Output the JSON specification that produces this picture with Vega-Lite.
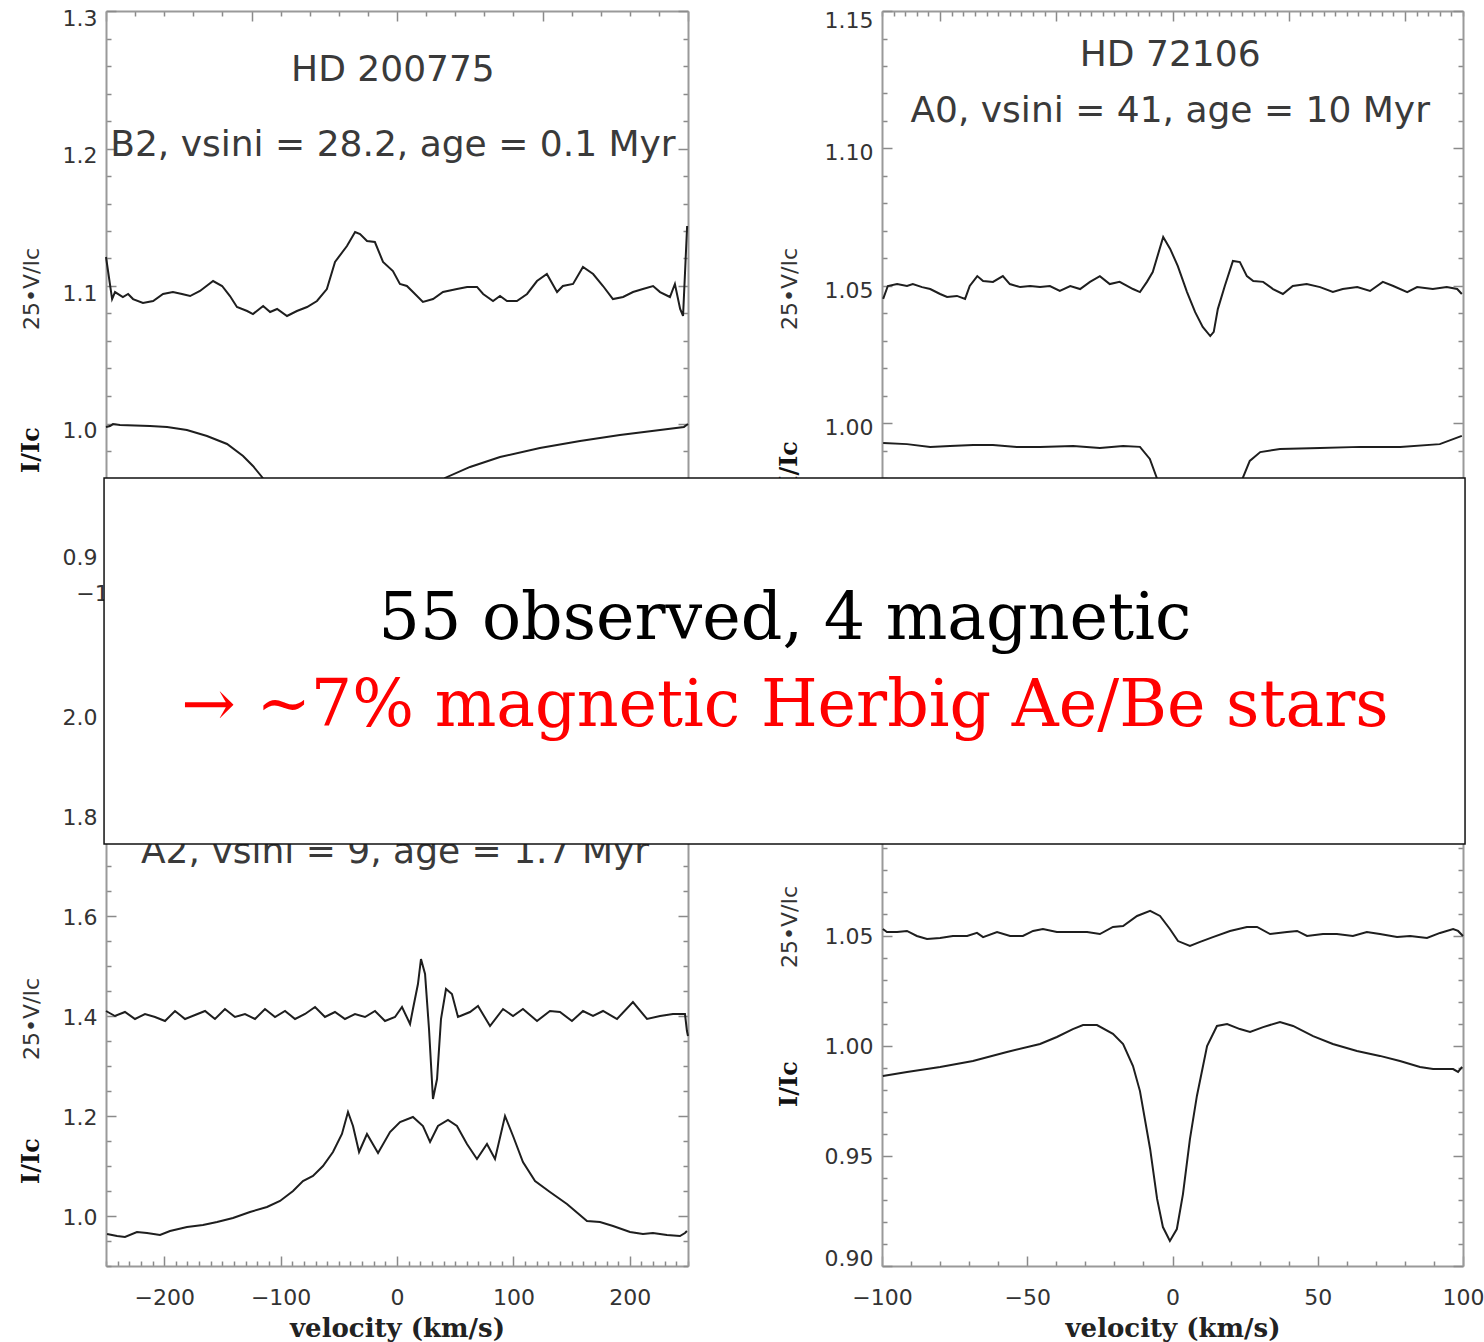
{
"$schema":"https://vega.github.io/schema/vega-lite/v6.json",
"background":"white",
"padding":{"left":19,"top":7,"right":5,"bottom":5},
"config":{"view":{"stroke":null},"axis":{"domainColor":"#9a9a9a","domainWidth":2,"tickColor":"#8a8a8a","tickWidth":1.5,"labelFont":"DejaVu Sans","labelFontSize":22,"labelColor":"#333","grid":false,"titleFont":"DejaVu Serif","titleFontWeight":"bold","titleFontSize":26,"titleColor":"#222","labelOverlap":false,"labelFlush":false}},
"datasets":{
"tlV":[{"v":-100,"f":1.1211},{"v":-97.9,"f":1.0905},{"v":-96.9,"f":1.0956},{"v":-94.2,"f":1.092},{"v":-92.4,"f":1.0942},{"v":-90.7,"f":1.0905},{"v":-87.3,"f":1.0876},{"v":-83.8,"f":1.0891},{"v":-80.4,"f":1.0942},{"v":-77.0,"f":1.0956},{"v":-73.9,"f":1.0942},{"v":-71.1,"f":1.0927},{"v":-67.7,"f":1.0964},{"v":-63.2,"f":1.1036},{"v":-60.1,"f":1.1},{"v":-57.4,"f":1.0927},{"v":-55.0,"f":1.0847},{"v":-51.5,"f":1.0818},{"v":-49.5,"f":1.0796},{"v":-46.0,"f":1.0855},{"v":-43.6,"f":1.0811},{"v":-41.2,"f":1.0833},{"v":-37.8,"f":1.0782},{"v":-34.4,"f":1.0818},{"v":-30.9,"f":1.0847},{"v":-27.5,"f":1.0891},{"v":-24.1,"f":1.0978},{"v":-21.3,"f":1.1175},{"v":-17.2,"f":1.1291},{"v":-14.4,"f":1.1393},{"v":-12.7,"f":1.1378},{"v":-10.3,"f":1.1327},{"v":-7.6,"f":1.132},{"v":-4.8,"f":1.1175},{"v":-1.4,"f":1.1109},{"v":1.0,"f":1.1015},{"v":3.4,"f":1.1},{"v":5.5,"f":1.0956},{"v":8.9,"f":1.0884},{"v":12.4,"f":1.0905},{"v":15.8,"f":1.0956},{"v":20.6,"f":1.0978},{"v":24.1,"f":1.0993},{"v":27.5,"f":1.0993},{"v":29.6,"f":1.0942},{"v":33.0,"f":1.0891},{"v":35.4,"f":1.0927},{"v":37.8,"f":1.0891},{"v":41.2,"f":1.0891},{"v":44.7,"f":1.0942},{"v":48.1,"f":1.1036},{"v":51.5,"f":1.1087},{"v":55.0,"f":1.0956},{"v":57.0,"f":1.1},{"v":60.5,"f":1.1015},{"v":63.9,"f":1.1138},{"v":67.4,"f":1.1087},{"v":70.8,"f":1.1},{"v":74.2,"f":1.0905},{"v":77.7,"f":1.092},{"v":81.1,"f":1.0956},{"v":84.5,"f":1.0978},{"v":88.0,"f":1.1},{"v":90.4,"f":1.0956},{"v":93.8,"f":1.092},{"v":95.5,"f":1.1015},{"v":97.3,"f":1.0833},{"v":98.3,"f":1.0782},{"v":99.7,"f":1.1436}],
"tlI":[{"v":-100,"f":0.9975},{"v":-98.6,"f":0.9982},{"v":-97.6,"f":0.9996},{"v":-95.2,"f":0.9989},{"v":-84.9,"f":0.9982},{"v":-79.0,"f":0.9975},{"v":-72.2,"f":0.9953},{"v":-65.3,"f":0.9909},{"v":-58.4,"f":0.9851},{"v":-52.9,"f":0.9764},{"v":-49.5,"f":0.9691},{"v":-46.4,"f":0.9611},{"v":-38.5,"f":0.9378},{"v":-26.5,"f":0.916},{"v":-12.7,"f":0.9087},{"v":1.0,"f":0.9196},{"v":11.3,"f":0.9451},{"v":16.5,"f":0.9604},{"v":25.1,"f":0.9684},{"v":35.4,"f":0.9756},{"v":49.1,"f":0.9822},{"v":62.9,"f":0.9873},{"v":76.6,"f":0.9916},{"v":90.4,"f":0.9953},{"v":98.6,"f":0.9975},{"v":100,"f":0.9996}],
"trV":[{"v":-49.8,"f":1.0453},{"v":-49.0,"f":1.05},{"v":-47.4,"f":1.0507},{"v":-45.7,"f":1.05},{"v":-44.7,"f":1.0507},{"v":-43.1,"f":1.0496},{"v":-41.7,"f":1.0489},{"v":-40.0,"f":1.0471},{"v":-38.8,"f":1.046},{"v":-37.1,"f":1.0464},{"v":-35.7,"f":1.0453},{"v":-34.9,"f":1.05},{"v":-33.6,"f":1.0536},{"v":-32.6,"f":1.0518},{"v":-30.9,"f":1.0515},{"v":-29.2,"f":1.0536},{"v":-28.0,"f":1.0507},{"v":-26.2,"f":1.0496},{"v":-24.5,"f":1.05},{"v":-22.8,"f":1.0496},{"v":-21.1,"f":1.05},{"v":-19.4,"f":1.0482},{"v":-17.6,"f":1.05},{"v":-15.9,"f":1.0489},{"v":-14.2,"f":1.0515},{"v":-12.5,"f":1.0536},{"v":-10.8,"f":1.0507},{"v":-9.1,"f":1.0515},{"v":-6.8,"f":1.0489},{"v":-5.6,"f":1.0478},{"v":-4.4,"f":1.0515},{"v":-3.4,"f":1.0551},{"v":-1.6,"f":1.0678},{"v":-0.4,"f":1.0635},{"v":0.9,"f":1.0573},{"v":2.5,"f":1.0478},{"v":3.9,"f":1.0405},{"v":5.2,"f":1.0351},{"v":6.5,"f":1.0318},{"v":7.1,"f":1.0333},{"v":7.8,"f":1.0416},{"v":9.0,"f":1.05},{"v":10.4,"f":1.0591},{"v":11.6,"f":1.0587},{"v":12.8,"f":1.0536},{"v":13.9,"f":1.0518},{"v":15.6,"f":1.0515},{"v":17.3,"f":1.0489},{"v":19.0,"f":1.0471},{"v":20.7,"f":1.05},{"v":23.1,"f":1.0507},{"v":25.4,"f":1.0496},{"v":27.6,"f":1.0478},{"v":29.3,"f":1.0489},{"v":31.8,"f":1.0496},{"v":34.0,"f":1.0482},{"v":36.2,"f":1.0515},{"v":38.0,"f":1.05},{"v":40.4,"f":1.0478},{"v":42.1,"f":1.0496},{"v":44.8,"f":1.0489},{"v":47.2,"f":1.0496},{"v":49.0,"f":1.0489},{"v":49.8,"f":1.0471}],
"trI":[{"v":-49.8,"f":0.9929},{"v":-45.7,"f":0.9925},{"v":-41.7,"f":0.9915},{"v":-38.3,"f":0.9918},{"v":-34.3,"f":0.9922},{"v":-30.9,"f":0.9922},{"v":-26.8,"f":0.9915},{"v":-22.8,"f":0.9915},{"v":-17.1,"f":0.9918},{"v":-12.5,"f":0.9911},{"v":-8.5,"f":0.9918},{"v":-5.6,"f":0.9915},{"v":-3.9,"f":0.9871},{"v":-2.7,"f":0.9802},{"v":-1.3,"f":0.9653},{"v":2.2,"f":0.9555},{"v":4.7,"f":0.955},{"v":9.0,"f":0.9616},{"v":12.1,"f":0.9802},{"v":13.3,"f":0.9864},{"v":15.1,"f":0.9896},{"v":18.5,"f":0.9907},{"v":25.4,"f":0.9911},{"v":32.3,"f":0.9915},{"v":39.2,"f":0.9915},{"v":46.0,"f":0.9925},{"v":49.8,"f":0.9955}],
"blV":[{"v":-250,"f":1.41},{"v":-242.3,"f":1.4},{"v":-233.7,"f":1.408},{"v":-225.1,"f":1.394},{"v":-216.5,"f":1.404},{"v":-207.9,"f":1.398},{"v":-199.3,"f":1.39},{"v":-190.7,"f":1.41},{"v":-182.1,"f":1.394},{"v":-173.5,"f":1.402},{"v":-164.9,"f":1.41},{"v":-156.4,"f":1.394},{"v":-147.8,"f":1.414},{"v":-139.2,"f":1.398},{"v":-130.6,"f":1.404},{"v":-122.0,"f":1.394},{"v":-113.4,"f":1.414},{"v":-104.8,"f":1.398},{"v":-96.2,"f":1.41},{"v":-87.6,"f":1.394},{"v":-79.0,"f":1.404},{"v":-70.4,"f":1.418},{"v":-61.9,"f":1.398},{"v":-53.3,"f":1.408},{"v":-44.7,"f":1.394},{"v":-36.1,"f":1.404},{"v":-27.5,"f":1.398},{"v":-18.9,"f":1.41},{"v":-10.3,"f":1.39},{"v":-1.7,"f":1.398},{"v":4.3,"f":1.418},{"v":11.2,"f":1.384},{"v":13.7,"f":1.414},{"v":18.0,"f":1.464},{"v":20.6,"f":1.514},{"v":24.1,"f":1.484},{"v":27.5,"f":1.374},{"v":30.9,"f":1.234},{"v":34.4,"f":1.274},{"v":37.8,"f":1.394},{"v":42.1,"f":1.454},{"v":47.2,"f":1.444},{"v":52.4,"f":1.398},{"v":62.7,"f":1.408},{"v":69.6,"f":1.42},{"v":79.9,"f":1.38},{"v":91.1,"f":1.414},{"v":99.7,"f":1.4},{"v":108.2,"f":1.414},{"v":120.3,"f":1.39},{"v":131.4,"f":1.41},{"v":140.0,"f":1.408},{"v":150.3,"f":1.39},{"v":159.8,"f":1.41},{"v":168.4,"f":1.4},{"v":177.0,"f":1.41},{"v":189.0,"f":1.394},{"v":202.7,"f":1.428},{"v":214.8,"f":1.394},{"v":226.0,"f":1.4},{"v":237.1,"f":1.404},{"v":247.4,"f":1.404},{"v":249.1,"f":1.37},{"v":250,"f":1.36}],
"blI":[{"v":-249.1,"f":0.964},{"v":-240.5,"f":0.96},{"v":-233.7,"f":0.958},{"v":-223.4,"f":0.968},{"v":-214.8,"f":0.966},{"v":-203.6,"f":0.962},{"v":-195.0,"f":0.97},{"v":-180.4,"f":0.978},{"v":-166.7,"f":0.982},{"v":-154.6,"f":0.988},{"v":-140.9,"f":0.996},{"v":-126.3,"f":1.008},{"v":-111.7,"f":1.018},{"v":-100.5,"f":1.03},{"v":-89.3,"f":1.05},{"v":-80.8,"f":1.07},{"v":-72.2,"f":1.08},{"v":-63.6,"f":1.1},{"v":-55.0,"f":1.128},{"v":-47.3,"f":1.164},{"v":-42.1,"f":1.208},{"v":-37.8,"f":1.18},{"v":-32.6,"f":1.128},{"v":-25.8,"f":1.164},{"v":-16.3,"f":1.126},{"v":-6.0,"f":1.168},{"v":2.6,"f":1.188},{"v":13.7,"f":1.198},{"v":22.3,"f":1.18},{"v":28.4,"f":1.148},{"v":35.2,"f":1.18},{"v":43.8,"f":1.192},{"v":51.5,"f":1.18},{"v":60.1,"f":1.144},{"v":68.7,"f":1.114},{"v":77.3,"f":1.144},{"v":84.2,"f":1.114},{"v":92.8,"f":1.2},{"v":99.7,"f":1.16},{"v":108.2,"f":1.108},{"v":118.6,"f":1.07},{"v":131.4,"f":1.048},{"v":146.0,"f":1.024},{"v":163.2,"f":0.99},{"v":174.4,"f":0.988},{"v":185.6,"f":0.98},{"v":200.2,"f":0.968},{"v":211.3,"f":0.964},{"v":219.9,"f":0.966},{"v":231.9,"f":0.962},{"v":243.1,"f":0.96},{"v":247.4,"f":0.966},{"v":249.1,"f":0.97}],
"brV":[{"v":-99.7,"f":1.0532},{"v":-98.3,"f":1.0518},{"v":-94.8,"f":1.0518},{"v":-91.4,"f":1.0523},{"v":-88.0,"f":1.05},{"v":-84.5,"f":1.0486},{"v":-80.0,"f":1.0491},{"v":-75.6,"f":1.05},{"v":-70.7,"f":1.05},{"v":-67.3,"f":1.0514},{"v":-65.2,"f":1.0495},{"v":-60.4,"f":1.0518},{"v":-55.9,"f":1.05},{"v":-51.5,"f":1.05},{"v":-48.0,"f":1.0523},{"v":-44.6,"f":1.0532},{"v":-39.8,"f":1.0518},{"v":-35.3,"f":1.0518},{"v":-29.4,"f":1.0518},{"v":-25.0,"f":1.0509},{"v":-20.5,"f":1.0541},{"v":-17.0,"f":1.0545},{"v":-12.2,"f":1.0591},{"v":-7.7,"f":1.0614},{"v":-4.3,"f":1.0591},{"v":-0.9,"f":1.0532},{"v":1.9,"f":1.0477},{"v":6.0,"f":1.0455},{"v":9.5,"f":1.0473},{"v":13.9,"f":1.0495},{"v":19.8,"f":1.0523},{"v":25.6,"f":1.0541},{"v":29.1,"f":1.0541},{"v":33.6,"f":1.0509},{"v":39.4,"f":1.0518},{"v":42.9,"f":1.0523},{"v":46.3,"f":1.05},{"v":51.8,"f":1.0509},{"v":56.6,"f":1.0509},{"v":62.1,"f":1.05},{"v":66.9,"f":1.0518},{"v":71.4,"f":1.0509},{"v":77.3,"f":1.0495},{"v":81.8,"f":1.05},{"v":87.6,"f":1.0491},{"v":92.1,"f":1.0514},{"v":96.6,"f":1.0532},{"v":98.3,"f":1.0523},{"v":100,"f":1.05}],
"brI":[{"v":-99.7,"f":0.9864},{"v":-91.4,"f":0.9882},{"v":-80.0,"f":0.9905},{"v":-68.7,"f":0.9932},{"v":-57.0,"f":0.9973},{"v":-45.6,"f":1.0009},{"v":-39.8,"f":1.0041},{"v":-34.3,"f":1.0077},{"v":-30.8,"f":1.0095},{"v":-26.0,"f":1.0095},{"v":-20.5,"f":1.0055},{"v":-17.0,"f":1.0009},{"v":-13.6,"f":0.9909},{"v":-11.2,"f":0.9795},{"v":-7.7,"f":0.9532},{"v":-5.3,"f":0.9305},{"v":-3.3,"f":0.9177},{"v":-0.9,"f":0.9114},{"v":1.5,"f":0.9168},{"v":3.6,"f":0.9327},{"v":6.0,"f":0.9577},{"v":8.4,"f":0.9773},{"v":11.9,"f":1.0},{"v":15.3,"f":1.0091},{"v":18.8,"f":1.01},{"v":23.2,"f":1.0077},{"v":26.7,"f":1.0064},{"v":31.2,"f":1.0086},{"v":37.0,"f":1.0109},{"v":41.5,"f":1.0091},{"v":48.4,"f":1.0045},{"v":55.2,"f":1.0009},{"v":63.5,"f":0.9977},{"v":71.4,"f":0.9955},{"v":78.3,"f":0.9932},{"v":85.2,"f":0.9905},{"v":89.7,"f":0.9895},{"v":96.6,"f":0.9895},{"v":98.3,"f":0.9882},{"v":99.7,"f":0.9905}]
},
"columns":2,
"bounds":"flush",
"spacing":{"row":155,"column":194},
"concat":[
{
"width":582,"height":550,
"layer":[
{"data":{"name":"tlV"},"mark":{"type":"line","color":"#1e1e1e","strokeWidth":2},
 "encoding":{
  "x":{"field":"v","type":"quantitative","scale":{"domain":[-100,100],"nice":false,"zero":false},
   "axis":{"orient":"bottom","values":[-100,-90,-80,-70,-60,-50,-40,-30,-20,-10,0,10,20,30,40,50,60,70,80,90,100],"tickSize":{"condition":{"test":"datum.value % 50 == 0","value":-10},"value":-5},"labelExpr":"datum.value == -100 ? format(datum.value, 'd') : ''","labelPadding":32,"labelFlush":false,"title":null,"zindex":0}},
  "y":{"field":"f","type":"quantitative","scale":{"domain":[0.9,1.3],"nice":false,"zero":false},
   "axis":{"orient":"left","values":[0.9,0.92,0.94,0.96,0.98,1.0,1.02,1.04,1.06,1.08,1.1,1.12,1.14,1.16,1.18,1.2,1.22,1.24,1.26,1.28,1.3],"tickSize":{"condition":{"test":"abs(datum.value*10-round(datum.value*10))<1e-6","value":-10},"value":-5},"labelExpr":"abs(datum.value*10-round(datum.value*10))<1e-6 ? format(datum.value, '.1f') : ''","labelPadding":19,"labelOffset":{"condition":{"test":"datum.value < 0.905","value":-4},"value":7},"title":null,"zindex":0}}}},
{"data":{"name":"tlI"},"mark":{"type":"line","color":"#1e1e1e","strokeWidth":2},
 "encoding":{
  "x":{"field":"v","type":"quantitative","scale":{"domain":[-100,100],"nice":false,"zero":false},
   "axis":{"orient":"top","values":[-100,-90,-80,-70,-60,-50,-40,-30,-20,-10,0,10,20,30,40,50,60,70,80,90,100],"tickSize":{"condition":{"test":"datum.value % 50 == 0","value":-10},"value":-5},"labels":false,"title":null,"zindex":0}},
  "y":{"field":"f","type":"quantitative","scale":{"domain":[0.9,1.3],"nice":false,"zero":false},
   "axis":{"orient":"right","values":[0.9,0.92,0.94,0.96,0.98,1.0,1.02,1.04,1.06,1.08,1.1,1.12,1.14,1.16,1.18,1.2,1.22,1.24,1.26,1.28,1.3],"tickSize":{"condition":{"test":"abs(datum.value*10-round(datum.value*10))<1e-6","value":-10},"value":-5},"labels":false,"title":null,"zindex":0}}}},
{"data":{"values":[{"v":-1.4,"f":1.249,"t":"HD 200775"},{"v":-1.4,"f":1.1945,"t":"B2, vsini = 28.2, age = 0.1 Myr"}]},
 "mark":{"type":"text","font":"DejaVu Sans","fontSize":36,"color":"#3a3a3a","align":"center","baseline":"alphabetic"},
 "encoding":{"x":{"field":"v","type":"quantitative","scale":{"domain":[-100,100],"nice":false,"zero":false},"axis":null},"y":{"field":"f","type":"quantitative","scale":{"domain":[0.9,1.3],"nice":false,"zero":false},"axis":null},"text":{"field":"t"}}},
{"data":{"values":[{"v":-125.4,"f":1.0978,"t":"25•V/Ic"}]},
 "mark":{"type":"text","font":"DejaVu Sans","fontSize":22,"color":"#333","align":"center","baseline":"middle","angle":270},
 "encoding":{"x":{"field":"v","type":"quantitative","scale":{"domain":[-100,100],"nice":false,"zero":false},"axis":null},"y":{"field":"f","type":"quantitative","scale":{"domain":[0.9,1.3],"nice":false,"zero":false},"axis":null},"text":{"field":"t"}}},
{"data":{"values":[{"v":-125.4,"f":0.9807,"t":"I/Ic"}]},
 "mark":{"type":"text","font":"DejaVu Serif","fontWeight":"bold","fontSize":24,"color":"#111","align":"center","baseline":"middle","angle":270},
 "encoding":{"x":{"field":"v","type":"quantitative","scale":{"domain":[-100,100],"nice":false,"zero":false},"axis":null},"y":{"field":"f","type":"quantitative","scale":{"domain":[0.9,1.3],"nice":false,"zero":false},"axis":null},"text":{"field":"t"}}}
],
"resolve":{"axis":{"x":"independent","y":"independent"}}
},
{
"width":581,"height":550,
"layer":[
{"data":{"name":"trV"},"mark":{"type":"line","color":"#1e1e1e","strokeWidth":2},
 "encoding":{
  "x":{"field":"v","type":"quantitative","scale":{"domain":[-50,50],"nice":false,"zero":false},
   "axis":{"orient":"bottom","values":[-50,-48,-46,-44,-42,-40,-38,-36,-34,-32,-30,-28,-26,-24,-22,-20,-18,-16,-14,-12,-10,-8,-6,-4,-2,0,2,4,6,8,10,12,14,16,18,20,22,24,26,28,30,32,34,36,38,40,42,44,46,48,50],"tickSize":{"condition":{"test":"datum.value % 20 == 0","value":-10},"value":-5},"labels":false,"title":null,"zindex":0}},
  "y":{"field":"f","type":"quantitative","scale":{"domain":[0.95,1.15],"nice":false,"zero":false},
   "axis":{"orient":"left","values":[0.95,0.96,0.97,0.98,0.99,1.0,1.01,1.02,1.03,1.04,1.05,1.06,1.07,1.08,1.09,1.1,1.11,1.12,1.13,1.14,1.15],"tickSize":{"condition":{"test":"abs(datum.value*20-round(datum.value*20))<1e-6","value":-10},"value":-5},"labelExpr":"abs(datum.value*20-round(datum.value*20))<1e-6 ? format(datum.value, '.2f') : ''","labelPadding":19,"labelOffset":{"condition":{"test":"datum.value > 1.145","value":9},"value":4},"title":null,"zindex":0}}}},
{"data":{"name":"trI"},"mark":{"type":"line","color":"#1e1e1e","strokeWidth":2},
 "encoding":{
  "x":{"field":"v","type":"quantitative","scale":{"domain":[-50,50],"nice":false,"zero":false},
   "axis":{"orient":"top","values":[-50,-48,-46,-44,-42,-40,-38,-36,-34,-32,-30,-28,-26,-24,-22,-20,-18,-16,-14,-12,-10,-8,-6,-4,-2,0,2,4,6,8,10,12,14,16,18,20,22,24,26,28,30,32,34,36,38,40,42,44,46,48,50],"tickSize":{"condition":{"test":"datum.value % 20 == 0","value":-10},"value":-5},"labels":false,"title":null,"zindex":0}},
  "y":{"field":"f","type":"quantitative","scale":{"domain":[0.95,1.15],"nice":false,"zero":false},
   "axis":{"orient":"right","values":[0.95,0.96,0.97,0.98,0.99,1.0,1.01,1.02,1.03,1.04,1.05,1.06,1.07,1.08,1.09,1.1,1.11,1.12,1.13,1.14,1.15],"tickSize":{"condition":{"test":"abs(datum.value*20-round(datum.value*20))<1e-6","value":-10},"value":-5},"labels":false,"title":null,"zindex":0}}}},
{"data":{"values":[{"v":-0.4,"f":1.13,"t":"HD 72106"},{"v":-0.4,"f":1.1096,"t":"A0, vsini = 41, age = 10 Myr"}]},
 "mark":{"type":"text","font":"DejaVu Sans","fontSize":36,"color":"#3a3a3a","align":"center","baseline":"alphabetic"},
 "encoding":{"x":{"field":"v","type":"quantitative","scale":{"domain":[-50,50],"nice":false,"zero":false},"axis":null},"y":{"field":"f","type":"quantitative","scale":{"domain":[0.95,1.15],"nice":false,"zero":false},"axis":null},"text":{"field":"t"}}},
{"data":{"values":[{"v":-65.8,"f":1.0489,"t":"25•V/Ic"}]},
 "mark":{"type":"text","font":"DejaVu Sans","fontSize":22,"color":"#333","align":"center","baseline":"middle","angle":270},
 "encoding":{"x":{"field":"v","type":"quantitative","scale":{"domain":[-50,50],"nice":false,"zero":false},"axis":null},"y":{"field":"f","type":"quantitative","scale":{"domain":[0.95,1.15],"nice":false,"zero":false},"axis":null},"text":{"field":"t"}}},
{"data":{"values":[{"v":-65.8,"f":0.9853,"t":"I/Ic"}]},
 "mark":{"type":"text","font":"DejaVu Serif","fontWeight":"bold","fontSize":24,"color":"#111","align":"center","baseline":"middle","angle":270},
 "encoding":{"x":{"field":"v","type":"quantitative","scale":{"domain":[-50,50],"nice":false,"zero":false},"axis":null},"y":{"field":"f","type":"quantitative","scale":{"domain":[0.95,1.15],"nice":false,"zero":false},"axis":null},"text":{"field":"t"}}}
],
"resolve":{"axis":{"x":"independent","y":"independent"}}
},
{
"width":582,"height":550,
"layer":[
{"data":{"name":"blV"},"mark":{"type":"line","color":"#1e1e1e","strokeWidth":2},
 "encoding":{
  "x":{"field":"v","type":"quantitative","scale":{"domain":[-250,250],"nice":false,"zero":false},
   "axis":{"orient":"bottom","values":[-250,-240,-230,-220,-210,-200,-190,-180,-170,-160,-150,-140,-130,-120,-110,-100,-90,-80,-70,-60,-50,-40,-30,-20,-10,0,10,20,30,40,50,60,70,80,90,100,110,120,130,140,150,160,170,180,190,200,210,220,230,240,250],"tickSize":{"condition":{"test":"datum.value % 100 == 0","value":-10},"value":-5},"labelExpr":"datum.value % 100 == 0 ? format(datum.value, 'd') : ''","labelPadding":31,"labelFlush":false,"title":"velocity (km/s)","titlePadding":2,"zindex":0}},
  "y":{"field":"f","type":"quantitative","scale":{"domain":[0.9,2.0],"nice":false,"zero":false},
   "axis":{"orient":"left","values":[0.9,0.95,1.0,1.05,1.1,1.15,1.2,1.25,1.3,1.35,1.4,1.45,1.5,1.55,1.6,1.65,1.7,1.75,1.8,1.85,1.9,1.95,2.0],"tickSize":{"condition":{"test":"abs(datum.value*5-round(datum.value*5))<1e-6","value":-10},"value":-5},"labelExpr":"abs(datum.value*5-round(datum.value*5))<1e-6 ? format(datum.value, '.1f') : ''","labelPadding":19,"labelOffset":1,"title":null,"zindex":0}}}},
{"data":{"name":"blI"},"mark":{"type":"line","color":"#1e1e1e","strokeWidth":2},
 "encoding":{
  "x":{"field":"v","type":"quantitative","scale":{"domain":[-250,250],"nice":false,"zero":false},
   "axis":{"orient":"top","values":[-250,-240,-230,-220,-210,-200,-190,-180,-170,-160,-150,-140,-130,-120,-110,-100,-90,-80,-70,-60,-50,-40,-30,-20,-10,0,10,20,30,40,50,60,70,80,90,100,110,120,130,140,150,160,170,180,190,200,210,220,230,240,250],"tickSize":{"condition":{"test":"datum.value % 100 == 0","value":-10},"value":-5},"labels":false,"title":null,"zindex":0}},
  "y":{"field":"f","type":"quantitative","scale":{"domain":[0.9,2.0],"nice":false,"zero":false},
   "axis":{"orient":"right","values":[0.9,0.95,1.0,1.05,1.1,1.15,1.2,1.25,1.3,1.35,1.4,1.45,1.5,1.55,1.6,1.65,1.7,1.75,1.8,1.85,1.9,1.95,2.0],"tickSize":{"condition":{"test":"abs(datum.value*5-round(datum.value*5))<1e-6","value":-10},"value":-5},"labels":false,"title":null,"zindex":0}}}},
{"data":{"values":[{"v":-1.7,"f":1.706,"t":"A2, vsini = 9, age = 1.7 Myr"}]},
 "mark":{"type":"text","font":"DejaVu Sans","fontSize":36,"color":"#3a3a3a","align":"center","baseline":"alphabetic"},
 "encoding":{"x":{"field":"v","type":"quantitative","scale":{"domain":[-250,250],"nice":false,"zero":false},"axis":null},"y":{"field":"f","type":"quantitative","scale":{"domain":[0.9,2.0],"nice":false,"zero":false},"axis":null},"text":{"field":"t"}}},
{"data":{"values":[{"v":-313.6,"f":1.394,"t":"25•V/Ic"}]},
 "mark":{"type":"text","font":"DejaVu Sans","fontSize":22,"color":"#333","align":"center","baseline":"middle","angle":270},
 "encoding":{"x":{"field":"v","type":"quantitative","scale":{"domain":[-250,250],"nice":false,"zero":false},"axis":null},"y":{"field":"f","type":"quantitative","scale":{"domain":[0.9,2.0],"nice":false,"zero":false},"axis":null},"text":{"field":"t"}}},
{"data":{"values":[{"v":-313.6,"f":1.11,"t":"I/Ic"}]},
 "mark":{"type":"text","font":"DejaVu Serif","fontWeight":"bold","fontSize":24,"color":"#111","align":"center","baseline":"middle","angle":270},
 "encoding":{"x":{"field":"v","type":"quantitative","scale":{"domain":[-250,250],"nice":false,"zero":false},"axis":null},"y":{"field":"f","type":"quantitative","scale":{"domain":[0.9,2.0],"nice":false,"zero":false},"axis":null},"text":{"field":"t"}}}
],
"resolve":{"axis":{"x":"independent","y":"independent"}}
},
{
"width":581,"height":550,
"layer":[
{"data":{"name":"brV"},"mark":{"type":"line","color":"#1e1e1e","strokeWidth":2},
 "encoding":{
  "x":{"field":"v","type":"quantitative","scale":{"domain":[-100,100],"nice":false,"zero":false},
   "axis":{"orient":"bottom","values":[-100,-90,-80,-70,-60,-50,-40,-30,-20,-10,0,10,20,30,40,50,60,70,80,90,100],"tickSize":{"condition":{"test":"datum.value % 50 == 0","value":-10},"value":-5},"labelExpr":"datum.value % 50 == 0 ? format(datum.value, 'd') : ''","labelPadding":31,"labelFlush":false,"title":"velocity (km/s)","titlePadding":2,"zindex":0}},
  "y":{"field":"f","type":"quantitative","scale":{"domain":[0.9,1.15],"nice":false,"zero":false},
   "axis":{"orient":"left","values":[0.9,0.91,0.92,0.93,0.94,0.95,0.96,0.97,0.98,0.99,1.0,1.01,1.02,1.03,1.04,1.05,1.06,1.07,1.08,1.09,1.1,1.11,1.12,1.13,1.14,1.15],"tickSize":{"condition":{"test":"abs(datum.value*20-round(datum.value*20))<1e-6","value":-10},"value":-5},"labelExpr":"abs(datum.value*20-round(datum.value*20))<1e-6 && datum.value < 1.06 ? format(datum.value, '.2f') : ''","labelPadding":19,"labelOffset":{"condition":{"test":"datum.value < 0.905","value":-8},"value":0},"title":null,"zindex":0}}}},
{"data":{"name":"brI"},"mark":{"type":"line","color":"#1e1e1e","strokeWidth":2},
 "encoding":{
  "x":{"field":"v","type":"quantitative","scale":{"domain":[-100,100],"nice":false,"zero":false},
   "axis":{"orient":"top","values":[-100,-90,-80,-70,-60,-50,-40,-30,-20,-10,0,10,20,30,40,50,60,70,80,90,100],"tickSize":{"condition":{"test":"datum.value % 50 == 0","value":-10},"value":-5},"labels":false,"title":null,"zindex":0}},
  "y":{"field":"f","type":"quantitative","scale":{"domain":[0.9,1.15],"nice":false,"zero":false},
   "axis":{"orient":"right","values":[0.9,0.91,0.92,0.93,0.94,0.95,0.96,0.97,0.98,0.99,1.0,1.01,1.02,1.03,1.04,1.05,1.06,1.07,1.08,1.09,1.1,1.11,1.12,1.13,1.14,1.15],"tickSize":{"condition":{"test":"abs(datum.value*20-round(datum.value*20))<1e-6","value":-10},"value":-5},"labels":false,"title":null,"zindex":0}}}},
{"data":{"values":[{"v":-131.7,"f":1.0541,"t":"25•V/Ic"}]},
 "mark":{"type":"text","font":"DejaVu Sans","fontSize":22,"color":"#333","align":"center","baseline":"middle","angle":270},
 "encoding":{"x":{"field":"v","type":"quantitative","scale":{"domain":[-100,100],"nice":false,"zero":false},"axis":null},"y":{"field":"f","type":"quantitative","scale":{"domain":[0.9,1.15],"nice":false,"zero":false},"axis":null},"text":{"field":"t"}}},
{"data":{"values":[{"v":-131.7,"f":0.9827,"t":"I/Ic"}]},
 "mark":{"type":"text","font":"DejaVu Serif","fontWeight":"bold","fontSize":24,"color":"#111","align":"center","baseline":"middle","angle":270},
 "encoding":{"x":{"field":"v","type":"quantitative","scale":{"domain":[-100,100],"nice":false,"zero":false},"axis":null},"y":{"field":"f","type":"quantitative","scale":{"domain":[0.9,1.15],"nice":false,"zero":false},"axis":null},"text":{"field":"t"}}},
{"data":{"values":[{"xa":-367.8,"xb":100.7,"ya":1.2582,"yb":1.0918}]},
 "mark":{"type":"rect","fill":"white","stroke":"#111","strokeWidth":1.5},
 "encoding":{"x":{"field":"xa","type":"quantitative","scale":{"domain":[-100,100],"nice":false,"zero":false},"axis":null},"x2":{"field":"xb"},"y":{"field":"ya","type":"quantitative","scale":{"domain":[0.9,1.15],"nice":false,"zero":false},"axis":null},"y2":{"field":"yb"}}},
{"data":{"values":[{"v":-133.4,"f":1.185,"t":"55 observed, 4 magnetic"}]},
 "mark":{"type":"text","font":"DejaVu Serif","fontSize":65,"color":"#000","align":"center","baseline":"alphabetic"},
 "encoding":{"x":{"field":"v","type":"quantitative","scale":{"domain":[-100,100],"nice":false,"zero":false},"axis":null},"y":{"field":"f","type":"quantitative","scale":{"domain":[0.9,1.15],"nice":false,"zero":false},"axis":null},"text":{"field":"t"}}},
{"data":{"values":[{"v":-133.4,"f":1.1455,"t":"→ ~7% magnetic Herbig Ae/Be stars"}]},
 "mark":{"type":"text","font":"DejaVu Serif","fontSize":65,"color":"#ff0000","align":"center","baseline":"alphabetic"},
 "encoding":{"x":{"field":"v","type":"quantitative","scale":{"domain":[-100,100],"nice":false,"zero":false},"axis":null},"y":{"field":"f","type":"quantitative","scale":{"domain":[0.9,1.15],"nice":false,"zero":false},"axis":null},"text":{"field":"t"}}}
],
"resolve":{"axis":{"x":"independent","y":"independent"}}
}
]
}
